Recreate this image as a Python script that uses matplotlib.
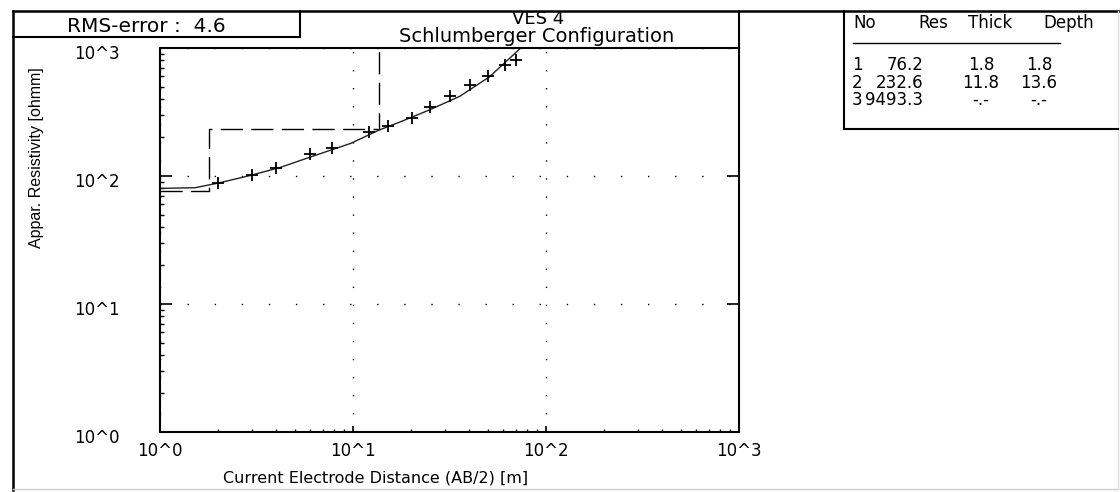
import matplotlib
matplotlib.use("Agg")
import matplotlib.pyplot as plt
from matplotlib.lines import Line2D
from matplotlib.transforms import ScaledTranslation

# field data, AB/2 [m] and apparent resistivity [ohmm]
ab2 = [2.0, 3.0, 4.0, 6.0, 7.8, 12.1, 15.1, 20.2, 25.1, 31.8, 40.3, 50.0, 61.0, 70.0]
rho_obs = [88, 102, 115, 149, 164, 220, 246, 285, 349, 420, 512, 607, 731, 802]

# computed curve of the fitted model
curve_x = [1.0, 1.52, 2.0, 2.94, 4.22, 6.04, 9.75, 13.6, 17.6, 25.1, 35.8, 51.0, 74.0, 85.0]
curve_y = [80, 81, 88, 101, 117, 141, 180, 228, 265, 330, 420, 596, 1000, 1250]

# layer model
layer_no = ["1", "2", "3"]
layer_res = [76.2, 232.6, 9493.3]
layer_thick = ["1.8", "11.8", "-.-"]
layer_depth = [1.8, 13.6]

rms_error = 4.6
ves_name = "VES 4"
x_ticks = [1, 10, 100, 1000]
y_ticks = [1, 10, 100, 1000]
tick_labels = ["10^0", "10^1", "10^2", "10^3"]

W, H = 1120, 492
plt.rcParams['font.family'] = 'DejaVu Sans'

fig = plt.figure(figsize=(W / 100, H / 100), dpi=100)
fig.patch.set_facecolor("white")


def fx(x):
    return x / W


def fy(y):
    return 1 - y / H


def frame_line(x0, y0, x1, y1, lw=1.5, color="black"):
    fig.add_artist(Line2D([fx(x0), fx(x1)], [fy(y0), fy(y1)],
                          transform=fig.transFigure, lw=lw, color=color))


ax = fig.add_axes([fx(160), fy(432), (739 - 160) / W, (432 - 48) / H])
ax.set_xscale("log")
ax.set_yscale("log")
ax.set_xlim(1, 1000)
ax.set_ylim(1, 1000)

# step model from the layer table
step_x = [1.0]
step_y = [layer_res[0]]
for i, d in enumerate(layer_depth):
    step_x += [d, d]
    step_y += [layer_res[i], layer_res[i + 1]]
ax.plot(step_x, step_y, color="black", lw=1.0, linestyle=(0, (16, 6)))

ax.plot(curve_x, curve_y, color="#222222", lw=1.0)
ax.plot(ab2, rho_obs, linestyle="none", marker="+", markersize=8,
        mew=1.3, color="black")

ax.set_xticks(x_ticks)
ax.set_xticklabels(tick_labels)
ax.set_yticks(y_ticks)
ax.set_yticklabels(tick_labels)
ax.tick_params(which="both", direction="in", top=False, right=True)
ax.tick_params(axis="y", which="major", length=8.5, width=1.2, pad=29, labelsize=12)
ax.tick_params(axis="y", which="minor", length=3, width=1.0, right=False)
ax.tick_params(axis="x", which="major", length=4, width=1.2, pad=7, labelsize=12)
ax.tick_params(axis="x", which="minor", length=2.5, width=1.0)
off = ScaledTranslation(0, -3 / 72, fig.dpi_scale_trans)
for lab in ax.get_yticklabels():
    lab.set_transform(lab.get_transform() + off)

for s in ax.spines.values():
    s.set_linewidth(1.5)

ax.xaxis.grid(True, which="major", color="black", lw=1.0, linestyle=(0, (1, 12)))
ax.yaxis.grid(True, which="major", color="black", lw=1.0, linestyle=(0, (1, 18.5)))

ax.set_xlabel("Current Electrode Distance (AB/2) [m]", fontsize=11.5)
ax.xaxis.set_label_coords(0.373, -0.10)
ax.set_ylabel("Appar. Resistivity [ohmm]", fontsize=11.5, family="Liberation Sans")
ax.yaxis.set_label_coords(-0.200, 0.714)

# title area
fig.text(fx(538), fy(19), ves_name, ha="center", va="center", fontsize=13)
fig.text(fx(537), fy(37), "Schlumberger Configuration", ha="center", va="center", fontsize=14)
fig.text(fx(146), fy(26), "RMS-error :  %.1f" % rms_error, ha="center", va="center", fontsize=14.5)

# layer table
ty = [65, 83, 100]
fs = 12
fig.text(fx(853), fy(23), "No", ha="left", va="center", fontsize=fs)
fig.text(fx(933), fy(23), "Res", ha="center", va="center", fontsize=fs)
fig.text(fx(990), fy(23), "Thick", ha="center", va="center", fontsize=fs)
fig.text(fx(1069), fy(23), "Depth", ha="center", va="center", fontsize=fs)
for i in range(len(layer_no)):
    fig.text(fx(857), fy(ty[i]), layer_no[i], ha="center", va="center", fontsize=fs)
    fig.text(fx(923), fy(ty[i]), "%.1f" % layer_res[i], ha="right", va="center", fontsize=fs)
    fig.text(fx(981), fy(ty[i]), layer_thick[i], ha="center", va="center", fontsize=fs)
    dep = "%.1f" % layer_depth[i] if i < len(layer_depth) else "-.-"
    fig.text(fx(1039), fy(ty[i]), dep, ha="center", va="center", fontsize=fs)

# frames
frame_line(13, 11, 1120, 11, lw=1.8)
frame_line(13, 11, 13, 490, lw=1.8)
frame_line(13, 489, 1118, 489, lw=1.0, color="#cccccc")
frame_line(1118, 11, 1118, 489, lw=1.0, color="#dddddd")
frame_line(300, 11, 300, 37)
frame_line(13, 37, 300, 37)
frame_line(739, 11, 739, 48)
frame_line(844, 11, 844, 129)
frame_line(844, 129, 1118, 129)
frame_line(853, 43, 1060, 43, lw=1.0)

fig.savefig("out.png", dpi=100, facecolor="white")
